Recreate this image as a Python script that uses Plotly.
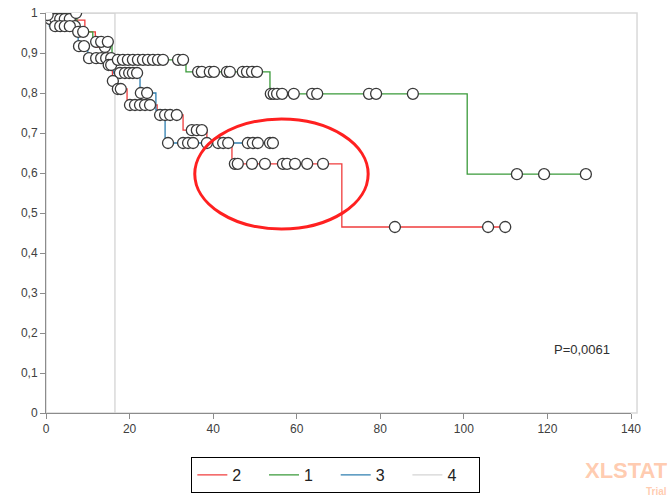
import plotly.graph_objects as go

# ---- Group 2 (red) ----
g2_event_t = [0, 0.6, 9.3, 11.8, 14.6, 15.9, 16.9, 19.4, 26.6, 32.8, 38.5, 44.5, 70.8]
g2_event_s = [1, 0.982, 0.953, 0.915, 0.87, 0.83, 0.81, 0.77, 0.745, 0.707, 0.675, 0.623, 0.465]
g2_end_t = 109.9
g2_cens_t = [14.1, 15.0, 15.6, 16.0, 17.2, 17.9, 20.1, 21.3, 22.5, 23.7, 24.9,
             27.3, 28.5, 29.7, 31.3, 34.9, 36.1, 37.3,
             45.2, 45.9, 49.3, 52.4, 56.7, 57.7, 59.6, 62.5, 66.3,
             83.5, 105.8, 109.9]
g2_cens_s = [0.915, 0.87, 0.87, 0.83, 0.81, 0.81, 0.77, 0.77, 0.77, 0.77, 0.77,
             0.745, 0.745, 0.745, 0.745, 0.707, 0.707, 0.707,
             0.623, 0.623, 0.623, 0.623, 0.623, 0.623, 0.623, 0.623, 0.623,
             0.465, 0.465, 0.465]

# ---- Group 1 (green) ----
g1_event_t = [0, 7.4, 11.2, 15.8, 33.5, 53.6, 100.8]
g1_event_s = [1, 0.953, 0.928, 0.883, 0.853, 0.798, 0.597]
g1_end_t = 129.2
g1_cens_t = [0.1, 0.4, 7.2, 7.7, 8.9, 12.0, 13.2, 14.8,
             17.2, 18.4, 19.6, 20.8, 22.0, 23.2, 24.4, 25.6, 26.8, 28.0, 31.6, 32.8,
             36.4, 37.3, 39.2, 40.2, 43.3, 44.0, 47.1, 48.1, 49.3, 50.5,
             53.8, 54.5, 55.3, 56.5, 59.3, 63.7, 64.9, 77.3, 79.0, 87.8,
             112.7, 119.2, 129.2]
g1_cens_s = [1, 0.995, 1, 0.953, 0.953, 0.928, 0.928, 0.928,
             0.883, 0.883, 0.883, 0.883, 0.883, 0.883, 0.883, 0.883, 0.883, 0.883, 0.883, 0.883,
             0.853, 0.853, 0.853, 0.853, 0.853, 0.853, 0.853, 0.853, 0.853, 0.853,
             0.798, 0.798, 0.798, 0.798, 0.798, 0.798, 0.798, 0.798, 0.798, 0.798,
             0.597, 0.597, 0.597]

# ---- Group 3 (blue) ----
g3_event_t = [0, 0.8, 7.7, 10.0, 16.2, 22.5, 26.3, 28.5]
g3_event_s = [1, 0.967, 0.917, 0.887, 0.85, 0.8, 0.757, 0.675]
g3_end_t = 54.3
g3_cens_t = [1.0, 2.2, 3.4, 4.5, 5.7, 6.9, 7.9, 9.1, 10.3, 12.0, 13.2, 14.4, 15.6,
             17.7, 18.9, 19.9, 20.8, 21.8, 22.7, 24.2,
             29.2, 32.8, 34.0, 35.2, 38.5, 41.2, 42.4, 43.6, 48.3, 49.5, 50.7, 53.6, 54.3]
g3_cens_s = [0.985, 0.985, 0.985, 0.985, 0.985, 0.967, 0.917, 0.917, 0.887, 0.887, 0.887, 0.887, 0.887,
             0.85, 0.85, 0.85, 0.85, 0.85, 0.8, 0.8,
             0.675, 0.675, 0.675, 0.675, 0.675, 0.675, 0.675, 0.675, 0.675, 0.675, 0.675, 0.675, 0.675]
g3_row_t = [2.2, 3.4, 4.5, 5.7]
g3_row_s = [0.967, 0.967, 0.967, 0.967]

# ---- Group 4 (gray) ----
g4_event_t = [0, 16.5]
g4_event_s = [1, 0]

x_ticks = [0, 20, 40, 60, 80, 100, 120, 140]
y_ticks = [0, 0.1, 0.2, 0.3, 0.4, 0.5, 0.6, 0.7, 0.8, 0.9, 1]

RED = "#f03c3c"
GREEN = "#3a9a3a"
BLUE = "#2f7fb0"
GRAY = "#d4d4d4"
SP = "\u00a0\u00a0\u00a0\u00a0"


def step_xy(ts, ss, t_end):
    xs = list(ts) + ([t_end] if t_end is not None else [])
    ys = list(ss) + ([ss[-1]] if t_end is not None else [])
    return xs, ys


fig = go.Figure()

x4, y4 = step_xy(g4_event_t, g4_event_s, None)
fig.add_trace(go.Scatter(x=x4, y=y4, mode="lines", line=dict(color=GRAY, width=1.3, shape="hv"),
                         name="4" + SP, legendrank=4))
x2, y2 = step_xy(g2_event_t, g2_event_s, g2_end_t)
fig.add_trace(go.Scatter(x=x2, y=y2, mode="lines", line=dict(color=RED, width=1.3, shape="hv"),
                         name="2" + SP, legendrank=1))
x1, y1 = step_xy(g1_event_t, g1_event_s, g1_end_t)
fig.add_trace(go.Scatter(x=x1, y=y1, mode="lines", line=dict(color=GREEN, width=1.3, shape="hv"),
                         name="1" + SP, legendrank=2))
x3, y3 = step_xy(g3_event_t, g3_event_s, g3_end_t)
fig.add_trace(go.Scatter(x=x3, y=y3, mode="lines", line=dict(color=BLUE, width=1.3, shape="hv"),
                         name="3" + SP, legendrank=3))

mk = dict(symbol="circle", size=11, color="white", line=dict(color="#3a3a3a", width=1.3))
for ct, cs in [(g3_cens_t, g3_cens_s), (g3_row_t, g3_row_s), (g2_cens_t, g2_cens_s), (g1_cens_t, g1_cens_s)]:
    fig.add_trace(go.Scatter(x=ct, y=cs, mode="markers", marker=mk, showlegend=False,
                             hoverinfo="skip"))

axis_col = "#8c8c8c"
fig.update_layout(
    width=669, height=497, autosize=False,
    margin=dict(l=46, r=38, t=13, b=84, autoexpand=False),
    paper_bgcolor="white", plot_bgcolor="white",
    separators=",.",
    font=dict(family="Liberation Sans, Arial, sans-serif", size=12, color="#404040"),
    xaxis=dict(range=[0, 140], tickvals=x_ticks, showgrid=False, zeroline=False,
               showline=True, linecolor=axis_col, linewidth=1,
               ticks="outside", ticklen=5, tickcolor=axis_col, tickfont=dict(size=12, color="#404040")),
    yaxis=dict(range=[0, 1], tickvals=y_ticks, showgrid=False, zeroline=False,
               showline=True, linecolor=axis_col, linewidth=1,
               ticks="outside", ticklen=5, tickcolor=axis_col, tickfont=dict(size=12, color="#404040")),
    legend=dict(orientation="h", xref="container", yref="container",
                x=0.502, xanchor="center", y=1 - 457 / 497, yanchor="top",
                bordercolor="black", borderwidth=1, bgcolor="white",
                font=dict(size=16, color="#222222"), tracegroupgap=0),
    showlegend=True,
)

# plot-area frame (light gray top and right borders)
fig.add_shape(type="rect", xref="paper", yref="paper", x0=0, x1=1.0103, y0=0, y1=1.0,
              line=dict(color="#d9d9d9", width=1.5), layer="below")

# red highlighting ellipse
fig.add_shape(type="circle", xref="x", yref="y", x0=35.6, x1=77.1, y0=0.46, y1=0.735,
              line=dict(color="#ff2020", width=3))

fig.add_annotation(text="P=0,0061", xref="paper", yref="paper", x=0.916, y=0.16,
                   xanchor="center", yanchor="middle",
                   showarrow=False, font=dict(size=13, color="#303030"))

fig.add_annotation(text="<b>XLSTAT</b>", xref="paper", yref="paper", x=(669 - 46) / 585, y=(413 - 484) / 400,
                   xanchor="right", yanchor="bottom", showarrow=False, borderpad=0,
                   font=dict(size=22, color="rgba(255,160,110,0.55)", family="Liberation Sans, Arial"))
fig.add_annotation(text="<b>Trial</b>", xref="paper", yref="paper", x=(668 - 46) / 585, y=(413 - 485) / 400,
                   xanchor="right", yanchor="top", showarrow=False, borderpad=0,
                   font=dict(size=10, color="rgba(255,160,110,0.55)", family="Liberation Sans, Arial"))

fig.write_html("out.html")
